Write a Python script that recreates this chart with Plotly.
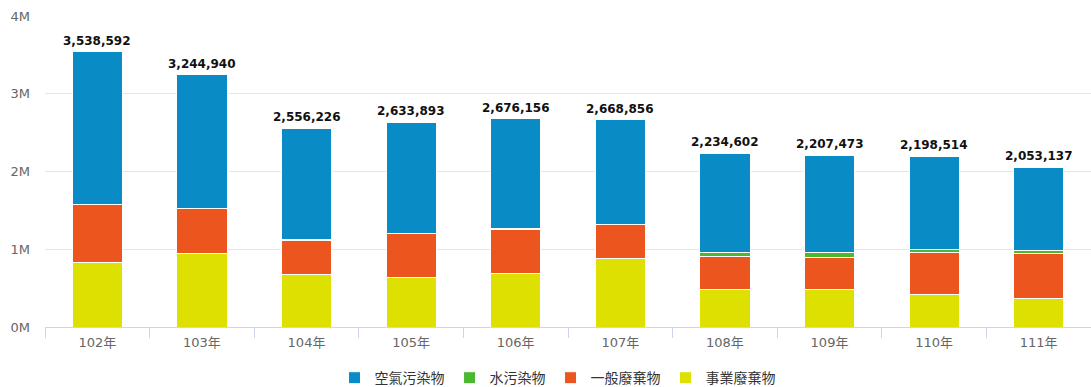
import plotly.graph_objects as go

# Years (ROC calendar) shown on the category axis
years = ["102年", "103年", "104年", "105年", "106年", "107年", "108年", "109年", "110年", "111年"]

# Emission / waste amounts per year, one list per category
air_pollutants = [1956592, 1718940, 1435226, 1430893, 1412156, 1348856, 1274602, 1251473, 1198514, 1071137]
water_pollutants = [6000, 6000, 5000, 5000, 6000, 6000, 50000, 59000, 40000, 39000]
general_waste = [744000, 572000, 444000, 560000, 573000, 430000, 423000, 410000, 547000, 576000]
industrial_waste = [832000, 948000, 672000, 638000, 685000, 884000, 487000, 487000, 413000, 367000]

# Y-axis ticks
y_ticks = [0, 1000000, 2000000, 3000000, 4000000]
y_tick_labels = ["0M", "1M", "2M", "3M", "4M"]

FONT = "DejaVu Sans, Noto Sans CJK TC, sans-serif"

series = [
    ("事業廢棄物", industrial_waste, "#dde000"),
    ("一般廢棄物", general_waste, "#ec561e"),
    ("水污染物", water_pollutants, "#4cb830"),
    ("空氣污染物", air_pollutants, "#098bc6"),
]

fig = go.Figure()
for name, values, color in series:
    fig.add_trace(go.Bar(
        x=years, y=values, name=name,
        marker=dict(color=color, line=dict(color="#ffffff", width=1)),
        hoverinfo="x+y+name",
    ))

# Stack totals written above each column
totals = [sum(v) for v in zip(industrial_waste, general_waste, water_pollutants, air_pollutants)]
for yr, tot in zip(years, totals):
    fig.add_annotation(
        x=yr, y=tot, text=f"<b>{tot:,}</b>", showarrow=False,
        yanchor="bottom", yshift=2,
        font=dict(family=FONT, size=12, color="#111111"),
    )

fig.update_layout(
    width=1091, height=387,
    margin=dict(l=45, r=0, t=16, b=60, autoexpand=False),
    barmode="stack",
    bargap=0.52,
    paper_bgcolor="#ffffff",
    plot_bgcolor="#ffffff",
    font=dict(family=FONT, size=13, color="#666666"),
    legend=dict(
        orientation="h", x=0.49, xanchor="center",
        yref="container", y=0.023, yanchor="middle",
        traceorder="reversed",
        font=dict(family=FONT, size=14, color="#333333"),
        itemwidth=30,
    ),
    xaxis=dict(
        type="category",
        showline=True, linecolor="#ccd6eb", linewidth=1,
        ticks="outside", tickson="boundaries", ticklen=10, tickcolor="#ccd6eb",
        tickfont=dict(family=FONT, size=13, color="#666666"),
        ticklabelstandoff=3,
        showgrid=False,
    ),
    yaxis=dict(
        range=[0, 4000000],
        tickvals=y_ticks, ticktext=y_tick_labels,
        showgrid=True, gridcolor="#e6e6e6", gridwidth=1,
        zeroline=False, showline=False,
        tickfont=dict(family=FONT, size=13, color="#666666"),
        ticklabelstandoff=14,
    ),
)

fig.write_html("out.html")
